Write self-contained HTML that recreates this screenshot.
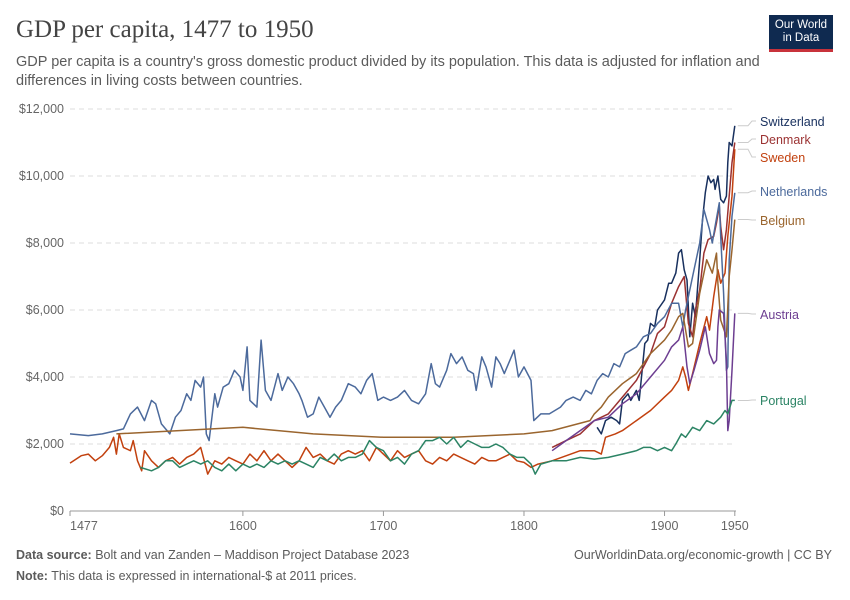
<!DOCTYPE html>
<html><head><meta charset="utf-8"><style>
body{margin:0;background:#fff;font-family:"Liberation Sans",sans-serif;}
#wrap{position:relative;width:850px;height:600px;overflow:hidden}
.t{position:absolute;margin:0}
</style></head><body>
<div id="wrap">
<h1 class="t" style="left:16px;top:16px;font-family:'Liberation Serif',serif;font-weight:normal;font-size:25px;color:#444">GDP per capita, 1477 to 1950</h1>
<p class="t" style="left:16px;top:53px;font-size:14.5px;line-height:19px;color:#5b5b5b;width:760px">GDP per capita is a country's gross domestic product divided by its population. This data is adjusted for inflation and differences in living costs between countries.</p>
<div class="t" style="left:769px;top:15px;width:64px;height:37px;background:#0f2a50;border-bottom:3px solid #c8323b;color:#fff;font-size:11.5px;line-height:13px;text-align:center;padding-top:4px;box-sizing:border-box">Our World<br>in Data</div>
<svg id="chart" width="850" height="600" style="position:absolute;left:0;top:0"></svg>
<p class="t" style="left:16px;top:548px;font-size:12.5px;color:#5b5b5b"><b>Data source:</b> Bolt and van Zanden – Maddison Project Database 2023</p>
<p class="t" style="right:18px;top:548px;font-size:12.5px;color:#5b5b5b">OurWorldinData.org/economic-growth | CC BY</p>
<p class="t" style="left:16px;top:569px;font-size:12.5px;color:#5b5b5b"><b>Note:</b> This data is expressed in international-$ at 2011 prices.</p>
</div>
<script>
const yTicks=[0,2000,4000,6000,8000,10000,12000];
const xTicks=[1477,1600,1700,1800,1900,1950];
const netherlands=[[1477,2300],[1490,2250],[1500,2300],[1510,2400],[1515,2450],[1520,2900],[1525,3100],[1530,2700],[1535,3300],[1538,3200],[1542,2600],[1548,2300],[1552,2800],[1556,3000],[1560,3500],[1563,3300],[1566,3900],[1570,3700],[1572,4000],[1574,2300],[1576,2100],[1580,3500],[1582,3100],[1586,3700],[1590,3800],[1594,4200],[1598,4000],[1600,3600],[1603,4900],[1605,3300],[1610,3100],[1613,5100],[1616,3600],[1620,3300],[1625,4100],[1628,3600],[1632,4000],[1636,3800],[1640,3500],[1642,3300],[1646,2800],[1650,2900],[1654,3400],[1658,3100],[1662,2800],[1666,3100],[1670,3300],[1675,3800],[1680,3700],[1684,3500],[1688,3900],[1692,4100],[1696,3300],[1700,3400],[1705,3300],[1710,3400],[1715,3600],[1720,3300],[1725,3200],[1730,3500],[1734,4400],[1737,3800],[1740,3700],[1745,4200],[1748,4700],[1752,4400],[1756,4600],[1760,4200],[1764,4100],[1766,3600],[1770,4600],[1773,4300],[1777,3700],[1780,4600],[1783,4400],[1786,4100],[1790,4500],[1793,4800],[1796,4000],[1800,4300],[1805,3900],[1807,2700],[1812,2900],[1818,2900],[1822,3000],[1826,3100],[1830,3300],[1835,3400],[1840,3300],[1844,3600],[1848,3500],[1852,3900],[1856,4100],[1860,4000],[1864,4400],[1868,4300],[1872,4700],[1876,4800],[1880,4900],[1885,5200],[1890,5300],[1895,5600],[1900,5800],[1905,6200],[1910,6200],[1913,5500],[1915,6000],[1920,7000],[1925,8000],[1928,9000],[1930,8700],[1932,8400],[1934,8000],[1936,8500],[1939,9200],[1940,8200],[1942,6500],[1944,4200],[1945,4300],[1946,7500],[1948,8800],[1950,9500]];
const switzerland=[[1852,2500],[1855,2300],[1858,2700],[1862,2800],[1866,2700],[1868,2600],[1870,3300],[1874,3500],[1876,3300],[1880,3600],[1882,3300],[1886,5000],[1888,5100],[1890,5600],[1893,5500],[1895,6000],[1900,6300],[1903,6800],[1905,6800],[1908,7100],[1910,7700],[1912,7800],[1914,7200],[1916,6900],[1918,5200],[1920,6200],[1922,5800],[1925,7500],[1927,8700],[1929,9500],[1931,10000],[1933,9800],[1935,9900],[1936,9600],[1938,10000],[1940,9300],[1942,9200],[1944,9400],[1945,10400],[1946,11000],[1948,10900],[1950,11500]];
const denmark=[[1820,1900],[1830,2100],[1840,2300],[1850,2700],[1860,2900],[1870,3400],[1880,3900],[1890,4700],[1895,5300],[1900,5500],[1905,6200],[1910,6700],[1914,7000],[1917,5600],[1920,5200],[1922,6000],[1925,6600],[1928,7700],[1931,8100],[1935,8200],[1937,8600],[1939,9100],[1940,8500],[1942,7800],[1944,8400],[1946,9400],[1948,10400],[1950,11000]];
const sweden=[[1477,1430],[1485,1650],[1490,1700],[1495,1500],[1500,1650],[1505,1900],[1508,2200],[1510,1700],[1512,2300],[1515,1900],[1520,1800],[1522,2100],[1525,1500],[1528,1200],[1530,1800],[1535,1500],[1540,1300],[1545,1500],[1550,1600],[1555,1400],[1560,1600],[1565,1700],[1570,1900],[1575,1100],[1580,1500],[1585,1400],[1590,1600],[1595,1500],[1600,1400],[1605,1700],[1610,1500],[1615,1800],[1620,1500],[1625,1700],[1630,1500],[1635,1300],[1640,1500],[1645,1900],[1650,1600],[1655,1700],[1660,1500],[1665,1400],[1670,1700],[1675,1800],[1680,1700],[1685,1800],[1690,1500],[1695,1900],[1700,1700],[1705,1500],[1710,1800],[1715,1600],[1720,1700],[1725,1800],[1730,1500],[1735,1400],[1740,1600],[1745,1500],[1750,1700],[1755,1600],[1760,1500],[1765,1400],[1770,1600],[1775,1500],[1780,1500],[1785,1600],[1790,1700],[1795,1500],[1800,1450],[1805,1300],[1810,1400],[1820,1500],[1840,1800],[1850,1800],[1855,1700],[1858,2200],[1865,2300],[1870,2400],[1880,2700],[1890,3000],[1900,3400],[1905,3600],[1910,3900],[1913,4300],[1915,4000],[1917,3600],[1920,4100],[1925,5000],[1930,5800],[1932,5400],[1935,6400],[1938,7200],[1940,6800],[1943,7100],[1945,8200],[1948,9400],[1950,10800]];
const portugal=[[1527,1300],[1535,1200],[1540,1300],[1545,1500],[1550,1500],[1555,1300],[1560,1400],[1565,1500],[1570,1400],[1575,1500],[1580,1300],[1585,1200],[1590,1400],[1595,1200],[1600,1400],[1605,1300],[1610,1400],[1615,1300],[1620,1500],[1625,1400],[1630,1500],[1635,1400],[1640,1500],[1645,1400],[1650,1300],[1655,1600],[1660,1500],[1665,1700],[1670,1500],[1675,1600],[1680,1600],[1685,1700],[1690,2100],[1695,1900],[1700,1800],[1705,1500],[1710,1600],[1715,1400],[1720,1700],[1725,1800],[1730,2100],[1735,2100],[1740,2200],[1745,2000],[1750,2200],[1755,1900],[1760,2100],[1765,2000],[1770,1900],[1775,1900],[1780,2000],[1785,1900],[1790,1700],[1795,1600],[1800,1600],[1805,1400],[1808,1100],[1812,1400],[1820,1500],[1830,1500],[1840,1600],[1850,1550],[1860,1600],[1870,1700],[1880,1800],[1885,1900],[1890,1900],[1895,1800],[1900,1900],[1905,1800],[1908,2000],[1912,2300],[1915,2200],[1920,2500],[1925,2400],[1930,2700],[1935,2600],[1940,2800],[1943,3000],[1945,2900],[1948,3300],[1950,3300]];
const belgium=[[1510,2300],[1600,2500],[1650,2300],[1700,2200],[1750,2200],[1800,2300],[1820,2400],[1847,2700],[1850,2900],[1855,3100],[1860,3400],[1870,3800],[1880,4100],[1890,4700],[1900,5100],[1905,5400],[1910,5800],[1913,5900],[1917,4900],[1920,5000],[1925,6500],[1930,7500],[1934,7100],[1937,7700],[1938,6800],[1940,5700],[1944,5200],[1946,7000],[1948,7800],[1950,8700]];
const austria=[[1820,1800],[1830,2100],[1840,2400],[1850,2700],[1860,2800],[1870,3200],[1880,3500],[1890,4000],[1900,4500],[1905,4900],[1910,5100],[1913,5500],[1916,4300],[1918,3800],[1921,4200],[1925,4800],[1929,5500],[1932,4700],[1935,4400],[1937,4500],[1938,5500],[1939,6000],[1942,5900],[1944,4500],[1945,2400],[1946,2700],[1948,4200],[1950,5900]];
const seriesNames=["Switzerland","Denmark","Sweden","Netherlands","Belgium","Austria","Portugal"];
const seriesData=[switzerland,denmark,sweden,netherlands,belgium,austria,portugal];
const colors=["#18305e","#9b3232","#c2410f","#4c6a9c","#9a652e","#6d3e91","#2c8465"];
const labelY=[126,144,162,196,225,319,405];

const svg=document.getElementById('chart');const NS='http://www.w3.org/2000/svg';
const X=y=>70+(y-1477)*1.4055;
const Y=v=>511-v*67/2000;
function mk(t,a){const e=document.createElementNS(NS,t);for(const k in a)e.setAttribute(k,a[k]);svg.appendChild(e);return e;}
yTicks.forEach(v=>{
  const g=mk('line',{x1:70,x2:736,y1:Y(v),y2:Y(v),stroke:'#ddd','stroke-dasharray':v?'5,4':'',});
  
  
  const t=mk('text',{x:64,y:Y(v)+4,'text-anchor':'end','font-size':12.5,fill:'#666','font-family':'Liberation Sans'});
  t.textContent='$'+v.toLocaleString('en-US');
  
  
});
const ax=mk('line',{x1:70,x2:736,y1:511,y2:511,stroke:'#999'});


xTicks.forEach(v=>{
  const tk=mk('line',{x1:X(v),x2:X(v),y1:511,y2:516,stroke:'#999'});
  
  
  const t=mk('text',{x:X(v),y:530,'text-anchor':v===1477?'start':'middle','font-size':12.5,fill:'#666','font-family':'Liberation Sans'});
  t.textContent=v;
  
  
});
seriesData.forEach((d,i)=>{
  const p=mk('polyline',{points:d.map(q=>X(q[0]).toFixed(1)+','+Y(q[1]).toFixed(1)).join(' '),fill:'none',stroke:colors[i],'stroke-width':1.5,'stroke-linejoin':'round'});
  
  
  const last=d[d.length-1];
  const c=mk('polyline',{points:`${X(last[0])+3},${Y(last[1])} ${748},${Y(last[1])} ${752},${labelY[i]-5} ${756},${labelY[i]-5}`,fill:'none',stroke:'#ccc','stroke-width':1});
  
  
  const t=mk('text',{x:760,y:labelY[i],'font-size':12.5,fill:colors[i],'font-family':'Liberation Sans'});
  t.textContent=seriesNames[i];
  
  
});
</script>
</body></html>
